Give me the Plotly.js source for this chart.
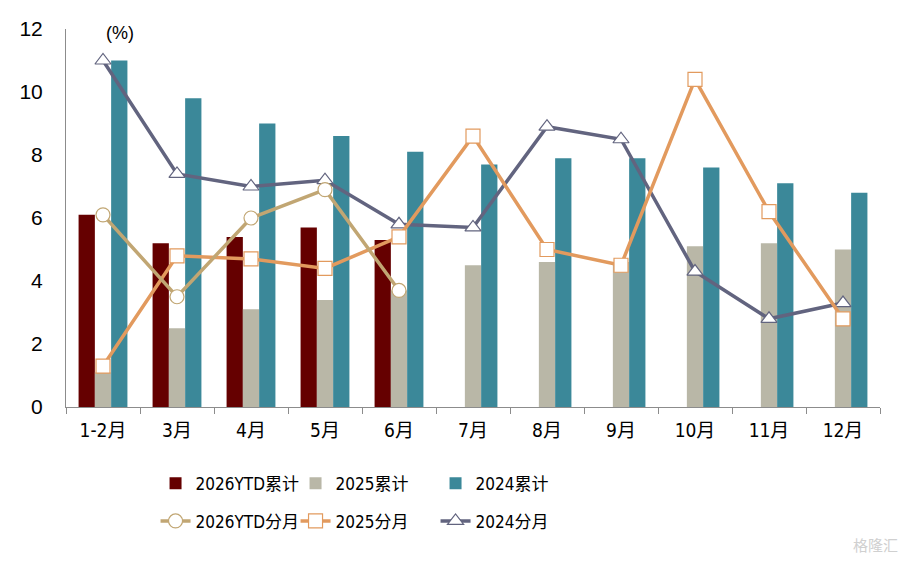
<!DOCTYPE html>
<html>
<head>
<meta charset="utf-8">
<script src="https://cdn.plot.ly/plotly-3.0.1.min.js"></script>
<style>
  html, body { margin: 0; padding: 0; background: #fff; }
  #chart { width: 908px; height: 563px; }
</style>
</head>
<body>
<div id="chart"></div>
<script>
// 月份
var months = ['1-2月', '3月', '4月', '5月', '6月', '7月', '8月', '9月', '10月', '11月', '12月'];

// 累计 (%)
var cum2026 = [6.1, 5.2, 5.4, 5.7, 5.3, null, null, null, null, null, null];
var cum2025 = [1.1, 2.5, 3.1, 3.4, 3.7, 4.5, 4.6, 4.6, 5.1, 5.2, 5.0];
var cum2024 = [11.0, 9.8, 9.0, 8.6, 8.1, 7.7, 7.9, 7.9, 7.6, 7.1, 6.8];

// 分月 (%)
var mon2026 = [6.1, 3.5, 6.0, 6.9, 3.7, null, null, null, null, null, null];
var mon2025 = [1.3, 4.8, 4.7, 4.4, 5.4, 8.6, 5.0, 4.5, 10.4, 6.2, 2.8];
var mon2024 = [11.0, 7.4, 7.0, 7.2, 5.8, 5.7, 8.9, 8.5, 4.3, 2.8, 3.3];

var narrowFam = '"DejaVu Sans Condensed", "Liberation Sans", "Noto Sans CJK SC", sans-serif';
var arialFam = '"Liberation Sans", Arial, "Noto Sans CJK SC", sans-serif';

function barTrace(name, y, color) {
  return {
    type: 'bar', name: name, x: months, y: y,
    marker: { color: color },
    legend: 'legend',
    hoverinfo: 'x+y+name'
  };
}

function lineTrace(name, y, color, symbol, size) {
  return {
    type: 'scatter', mode: 'lines+markers', name: name, x: months, y: y,
    line: { color: color, width: 3.5 },
    marker: { symbol: symbol, size: size, color: '#ffffff', line: { color: color, width: 1.2 } },
    legend: 'legend2',
    connectgaps: false
  };
}

var data = [
  barTrace('2026YTD累计', cum2026, '#650000'),
  barTrace('2025累计', cum2025, '#B9B7A7'),
  barTrace('2024累计', cum2024, '#3B8899'),
  lineTrace('2024分月', mon2024, '#62647F', 'triangle-up', 14),
  lineTrace('2025分月', mon2025, '#E29A5E', 'square', 14),
  lineTrace('2026YTD分月', mon2026, '#C1A673', 'circle', 14)
];

var layout = {
  width: 908, height: 563,
  margin: { l: 66, r: 28, t: 29, b: 156 },
  paper_bgcolor: '#ffffff', plot_bgcolor: '#ffffff',
  font: { family: narrowFam, color: '#000000', size: 19 },
  barmode: 'group',
  bargap: 0.34,
  bargroupgap: 0,
  showlegend: true,
  xaxis: {
    type: 'category',
    range: [-0.5, 10.5],
    showline: true, linecolor: '#8c8c8c', linewidth: 1,
    ticks: 'outside', tickson: 'boundaries', ticklen: 6, tickcolor: '#8c8c8c',
    tickfont: { size: 19 },
    ticklabelstandoff: 6,
    showgrid: false, zeroline: false
  },
  yaxis: {
    range: [0, 12], dtick: 2,
    showline: true, linecolor: '#8c8c8c', linewidth: 1,
    ticks: '', showgrid: false, zeroline: false,
    tickfont: { size: 21, family: arialFam },
    ticklabelstandoff: 18
  },
  legend: {
    orientation: 'h', x: 0.11, xanchor: 'left', y: -0.155, yanchor: 'top',
    entrywidth: 95, entrywidthmode: 'pixels',
    traceorder: 'normal',
    font: { size: 17 }, bgcolor: 'rgba(0,0,0,0)'
  },
  legend2: {
    orientation: 'h', x: 0.11, xanchor: 'left', y: -0.255, yanchor: 'top',
    entrywidth: 95, entrywidthmode: 'pixels',
    traceorder: 'reversed',
    font: { size: 17 }, bgcolor: 'rgba(0,0,0,0)'
  },
  annotations: [
    { text: '(%)', xref: 'paper', yref: 'paper', x: 0.066, y: 0.99, xanchor: 'center', yanchor: 'middle',
      showarrow: false, font: { size: 18, family: arialFam } },
    { text: '格隆汇', xref: 'paper', yref: 'paper', x: 1.025, y: -0.365, xanchor: 'right', yanchor: 'middle',
      showarrow: false, font: { size: 15, color: '#d0d0d0', family: '"Noto Sans CJK SC", sans-serif' } }
  ]
};

Plotly.newPlot('chart', data, layout, { displayModeBar: false, staticPlot: true });
</script>
</body>
</html>
